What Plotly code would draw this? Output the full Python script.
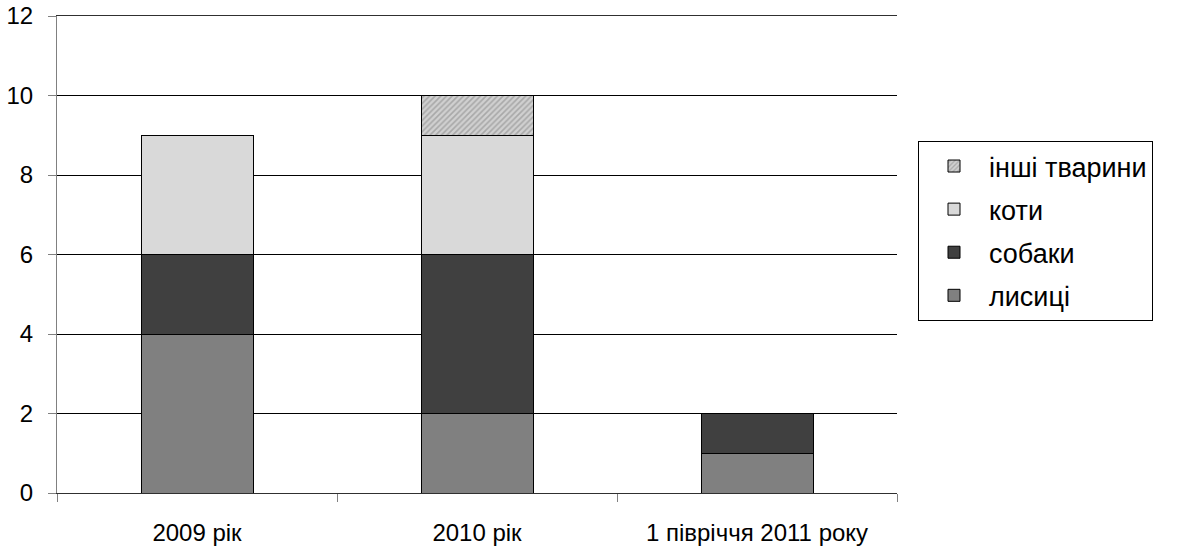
import plotly.graph_objects as go

categories = ["2009 рік", "2010 рік", "1 півріччя 2011 року"]
foxes = [4, 2, 1]
dogs = [2, 4, 1]
cats = [3, 3, 0]
others = [0, 1, 0]

series = [
    ("лисиці", foxes, "#808080", None),
    ("собаки", dogs, "#404040", None),
    ("коти", cats, "#d9d9d9", None),
    ("інші тварини", others, "#c0c0c0", "/"),
]

fig = go.Figure()
for i, (name, vals, color, pat) in enumerate(series):
    marker = dict(color=color, line=dict(color="#000000", width=1))
    if pat:
        marker["pattern"] = dict(shape=pat, fgcolor="#808080", bgcolor="#d0d0d0",
                                 size=4, solidity=0.4)
    fig.add_trace(go.Bar(name=name, x=categories, y=vals, marker=marker,
                         legendgroup=str(i), legendrank=100 - i, width=0.4))

fig.update_layout(
    barmode="stack",
    width=1184, height=547,
    margin=dict(l=57, r=287, t=16, b=54, autoexpand=False),
    paper_bgcolor="white", plot_bgcolor="white",
    font=dict(family="Liberation Sans, Arial, sans-serif", size=24, color="#000000"),
    legend=dict(
        x=1.025, y=0.738, xanchor="left", yanchor="top",
        traceorder="grouped", tracegroupgap=5,
        bordercolor="#000000", borderwidth=1,
        font=dict(size=27), itemwidth=60,
    ),
    showlegend=True,
)
fig.update_yaxes(
    range=[0, 12], dtick=2, showgrid=True, gridcolor="#000000", gridwidth=1,
    showline=True, linecolor="#808080", linewidth=1,
    ticks="outside", ticklen=8, tickcolor="#808080",
    zeroline=False, mirror=False, automargin=False, ticklabelstandoff=10,
)
fig.update_xaxes(
    showline=True, linecolor="#303030", linewidth=1, mirror=True,
    ticks="outside", ticklen=8, tickcolor="#808080", tickson="boundaries",
    showgrid=False, automargin=False, ticklabelstandoff=18,
)
fig.write_html("out.html", config={"displayModeBar": False},
               post_script="document.body.style.margin='0';")
